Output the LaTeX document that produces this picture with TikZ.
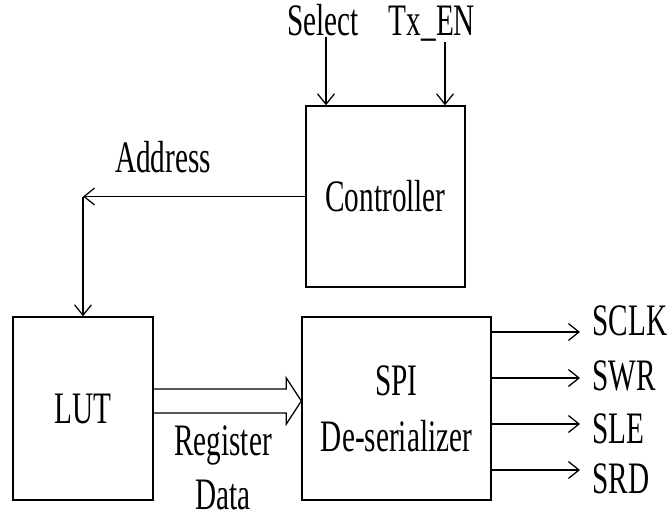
\documentclass[tikz,border=0pt]{standalone}
\usepackage{fontspec}
\setmainfont[FakeStretch=0.65]{Liberation Serif}
\usetikzlibrary{arrows.meta,positioning,calc}

\begin{document}
\begin{tikzpicture}[
    x=0.025cm, y=-0.025cm,
    txt/.style={font=\fontsize{32}{38}\selectfont, inner sep=1pt},
    block/.style={txt, rectangle, draw, line width=0.9pt, inner sep=0pt, align=center},
    sig/.style={line width=0.9pt, -{Straight Barb[length=7.5pt,width=12pt,line width=0.9pt]}},
    bus/.style={line width=0.9pt, line join=miter}
  ]
  \useasboundingbox (0,0) rectangle (667,521);

  %% --- blocks ---
  \node[block, minimum width=3.975cm, minimum height=4.525cm] (ctrl) at (385.5,196.5) {Controller};
  \node[block, minimum width=3.5cm, minimum height=4.575cm] (lut) at (83,408.5) {LUT};
  \node[block, minimum width=4.725cm, minimum height=4.575cm] (spi) at (396.5,408.5)
    {SPI\\[2pt]De-serializer};

  %% --- controller inputs ---
  \node[txt, anchor=base] (sel) at (323,35) {Select};
  \node[txt, anchor=base] (txen) at (432,35) {Tx\_EN};
  \draw[sig] ([xshift=0.075cm]sel.south) -- ([xshift=0.075cm]sel.south |- ctrl.north);
  \draw[sig] ([xshift=0.325cm]txen.south) -- ([xshift=0.325cm]txen.south |- ctrl.north);

  %% --- address path ---
  \node[txt, anchor=base] (addrlbl) at (163,172) {Address};
  \draw[sig] (ctrl.west) -- (ctrl.west -| lut.north) coordinate (addr);
  \draw[sig] (addr) -- (lut.north);

  %% --- register data bus ---
  \coordinate (busc) at (0,401);
  \draw[bus] ($(lut.east |- busc)+(0,-12)$) -- ($(spi.west |- busc)+(-15,-12)$)
    -- ++(0,-11) -- (spi.west |- busc) -- ++(-15,23) -- ++(0,-11)
    -- ($(lut.east |- busc)+(0,12)$);
  \node[txt, align=center, inner sep=0pt] (regdata) at (223,468) {Register\\Data};

  %% --- serial outputs ---
  \foreach \sname/\ay/\ty in {SCLK/332/335, SWR/378/390, SLE/424/443, SRD/470/493} {
    \coordinate (\sname-end) at (580,\ay);
    \draw[sig] (spi.east |- \sname-end) -- (\sname-end);
    \node[txt, anchor=base west] (\sname) at (591,\ty) {\sname};
  }
\end{tikzpicture}
\end{document}
